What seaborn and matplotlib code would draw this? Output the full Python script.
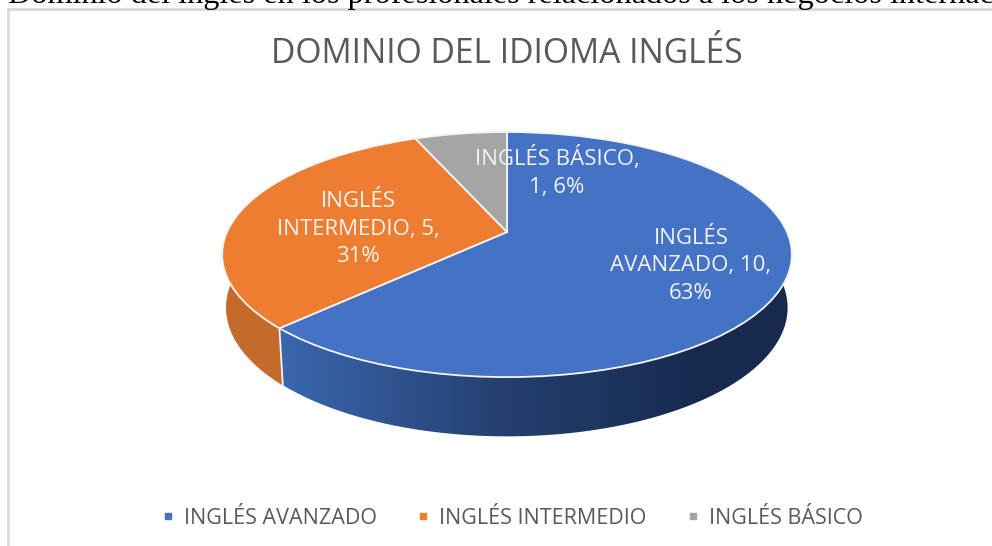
import numpy as np
import matplotlib
matplotlib.use("Agg")
import matplotlib.pyplot as plt
from matplotlib.transforms import Transform
from matplotlib.lines import Line2D
from matplotlib.patches import Polygon
import seaborn as sns

# ---- data ----
categories = ["INGLÉS AVANZADO", "INGLÉS INTERMEDIO", "INGLÉS BÁSICO"]
values = [10, 5, 1]
percents = ["63%", "31%", "6%"]
title = "DOMINIO DEL IDIOMA INGLÉS"
caption = "Dominio del inglés en los profesionales relacionados a los negocios internac"
labels = ["INGLÉS\nAVANZADO, 10,\n63%", "INGLÉS\nINTERMEDIO, 5,\n31%", "INGLÉS BÁSICO,\n1, 6%"]
colors = ["#4472C4", "#ED7D31", "#A5A5A5"]

sns.set_theme(style="white")
plt.rcParams["font.family"] = ["Open Sans", "DejaVu Sans"]
palette = sns.color_palette(colors)

fig = plt.figure(figsize=(9.92, 5.46), dpi=100, facecolor="white")
ax = fig.add_axes([0, 0, 1, 1])


class Perspective(Transform):
    """Tilted-disc view of the unit pie, output in figure pixels."""
    input_dims = output_dims = 2
    is_separable = False

    def __init__(self, cx=507, cy=232, bx=280, by=118.4, k=0.184, sx=1.0, sy=1.0, dy=0.0):
        super().__init__()
        self.p = (cx, cy, bx, by, k, sx, sy, dy)

    def transform_non_affine(self, xy):
        cx, cy, bx, by, k, sx, sy, dy = self.p
        xy = np.asarray(xy, float)
        d = 1 + k * xy[:, 1]
        return np.column_stack([cx + sx * bx * xy[:, 0] / d,
                                cy + dy - sy * by * xy[:, 1] / d])


top = Perspective()
base = Perspective(sx=0.985, sy=1.05, dy=52)

wedges, _ = ax.pie(values, colors=palette, startangle=90, counterclock=False,
                   wedgeprops=dict(edgecolor="#F4F4F4", linewidth=1.3, zorder=5))

wall_x = [285, 500, 700]
wall_stops = np.array([[0x3A, 0x66, 0xAD], [0x24, 0x40, 0x70], [0x17, 0x2A, 0x4E]]) / 255
wall_orange = "#C46A2A"
xs = np.linspace(270, 800, 256)
grad = np.stack([np.interp(xs, wall_x, wall_stops[:, n]) for n in range(3)], axis=1)[None, :, :]

for i, w in enumerate(wedges):
    w.set_transform(top + ax.transData)
    th = np.radians(np.linspace(w.theta1, w.theta2, 241))
    th = th[np.sin(th) < 0.3]
    pts = np.column_stack([np.cos(th), np.sin(th)])
    outline = np.vstack([top.transform(pts), base.transform(pts)[::-1]])
    if i == 0:
        poly = Polygon(outline, closed=True, facecolor="none", edgecolor="none",
                       transform=ax.transData)
        ax.add_patch(poly)
        im = ax.imshow(grad, extent=(270, 800, 460, 200), aspect="auto",
                       interpolation="bilinear", zorder=2)
        im.set_clip_path(poly)
    elif len(th):
        ax.add_patch(Polygon(outline, closed=True, facecolor=wall_orange,
                             edgecolor=wall_orange, linewidth=0.5, zorder=2))

ax.set_aspect("auto")
ax.set_xlim(0, 992)
ax.set_ylim(546, 0)
ax.set_axis_off()

# separator on the wall between blue and orange
sep = np.radians(wedges[0].theta1)
sp = np.array([[np.cos(sep), np.sin(sep)]])
a, b = top.transform(sp)[0], base.transform(sp)[0]
ax.plot([a[0], b[0]], [a[1], b[1]], color="#F4F4F4", lw=1.3, zorder=3)

# chart frame
ax.plot([8, 8, 992], [546, 9, 9], color="#D9D9D9", lw=2, zorder=1, solid_joinstyle="miter")

ax.text(8, 3.5, caption, family="Liberation Serif", fontsize=23.2, color="black",
        ha="left", va="baseline", zorder=6)
ax.text(507, 54, title, fontsize=24.2, color="#595959", ha="center", va="center", zorder=6)

label_xy = [(691, 266), (358, 229), (557, 172)]
for (x, y), t in zip(label_xy, labels):
    ax.text(x, y, t, fontsize=16, color="#F2F2F2", ha="center", va="center",
            linespacing=1.42, zorder=7)

handles = [Line2D([], [], linestyle="none", marker="s", markersize=5,
                  markerfacecolor=c, markeredgecolor=c) for c in palette]
ax.legend(handles, categories, loc="center", bbox_to_anchor=(510, 518),
          bbox_transform=ax.transData, ncols=3, frameon=False, fontsize=15.5,
          labelcolor="#595959", handletextpad=0.25, columnspacing=1.65, handlelength=1.0)

fig.savefig("out.png", dpi=100)
